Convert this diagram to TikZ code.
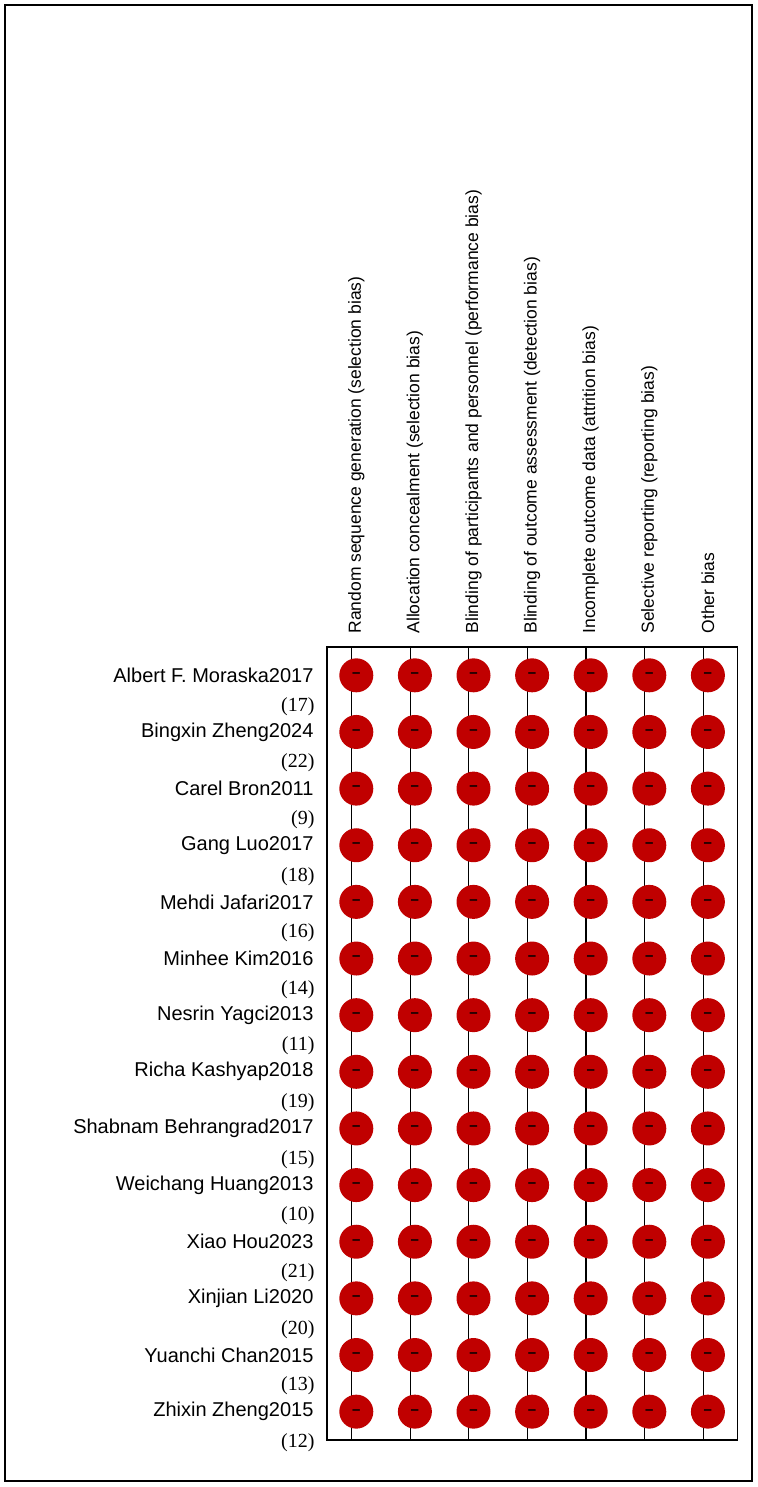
\documentclass[tikz,border=0pt]{standalone}
\usepackage{fontspec}
\setmainfont{Liberation Sans}
\newfontfamily\citefont{Liberation Serif}
\definecolor{lowrisk}{RGB}{0,204,0}
\definecolor{unclear}{RGB}{224,224,0}
\definecolor{highrisk}{RGB}{192,0,0}
\tikzset{
  lowmark/.style={shape=circle,fill=lowrisk,minimum size=34pt,inner sep=0pt,font=\fontsize{15}{15}\selectfont\bfseries},
  unclearmark/.style={shape=circle,fill=unclear,minimum size=34pt,inner sep=0pt,font=\fontsize{15}{15}\selectfont\bfseries},
  highmark/.style={shape=circle,fill=highrisk,minimum size=34pt,inner sep=0pt,font=\fontsize{15}{15}\selectfont\bfseries},
  studyname/.style={anchor=east,font=\fontsize{20}{20}\selectfont},
  citeno/.style={anchor=east,font=\citefont\fontsize{20}{20}\selectfont},
  domainhead/.style={rotate=90,anchor=west,font=\fontsize{17.5}{17.5}\selectfont}
}
\begin{document}
\begin{tikzpicture}[x=1pt,y=-1pt]
    \useasboundingbox (0,0) rectangle (757,1487);
    \draw[line width=1.2pt] (5,5) rectangle (752,1481);
    % domain headers
    \foreach \c/\txt in {1/Random sequence generation (selection bias),
                         2/Allocation concealment (selection bias),
                         3/Blinding of participants and personnel (performance bias),
                         4/Blinding of outcome assessment (detection bias),
                         5/Incomplete outcome data (attrition bias),
                         6/Selective reporting (reporting bias),
                         7/Other bias}
      \node[domainhead] (H\c) at ({327+58.6*(\c-0.5)},637) {\txt};
    % grid
    \draw[line width=1.2pt] (327,647) grid[xstep=58.6,ystep=56.64] (737.2,1440);
    \draw[line width=1.2pt] (327,647) rectangle (737.2,1440);
    % studies
    \foreach \r/\name/\ref/\marks in {
        1/Albert F. Moraska2017/17/{l,u,l,l,l,l,l},
        2/Bingxin Zheng2024/22/{l,u,u,u,l,l,l},
        3/Carel Bron2011/9/{l,u,l,l,l,l,l},
        4/Gang Luo2017/18/{h,u,u,u,l,l,l},
        5/Mehdi Jafari2017/16/{l,l,l,u,l,l,l},
        6/Minhee Kim2016/14/{l,u,l,l,l,l,l},
        7/Nesrin Yagci2013/11/{u,u,u,u,l,l,l},
        8/Richa Kashyap2018/19/{l,u,l,u,l,l,l},
        9/Shabnam Behrangrad2017/15/{l,l,l,l,l,l,l},
        10/Weichang Huang2013/10/{l,u,l,u,l,l,l},
        11/Xiao Hou2023/21/{l,u,l,u,l,l,l},
        12/Xinjian Li2020/20/{l,u,u,u,l,l,l},
        13/Yuanchi Chan2015/13/{u,u,u,u,l,l,l},
        14/Zhixin Zheng2015/12/{l,u,l,u,l,l,l}} {
      \node[studyname] (S\r) at (317,{647+56.64*(\r-0.5)}) {\name};
      \node[citeno] (C\r) at (318,{647+56.64*(\r-0.5)+31}) {(\ref)};
      \foreach \m [count=\c] in \marks {
        \ifx\m l
          \node[lowmark] (M\r-\c) at ({327+58.6*(\c-0.5)},{647+56.64*(\r-0.5)}) {+};
        \else\ifx\m u
          \node[unclearmark] (M\r-\c) at ({327+58.6*(\c-0.5)},{647+56.64*(\r-0.5)}) {?};
        \else
          \node[highmark] (M\r-\c) at ({327+58.6*(\c-0.5)},{647+56.64*(\r-0.5)}) {--};
        \fi\fi
      }
    }
\end{tikzpicture}
\end{document}
